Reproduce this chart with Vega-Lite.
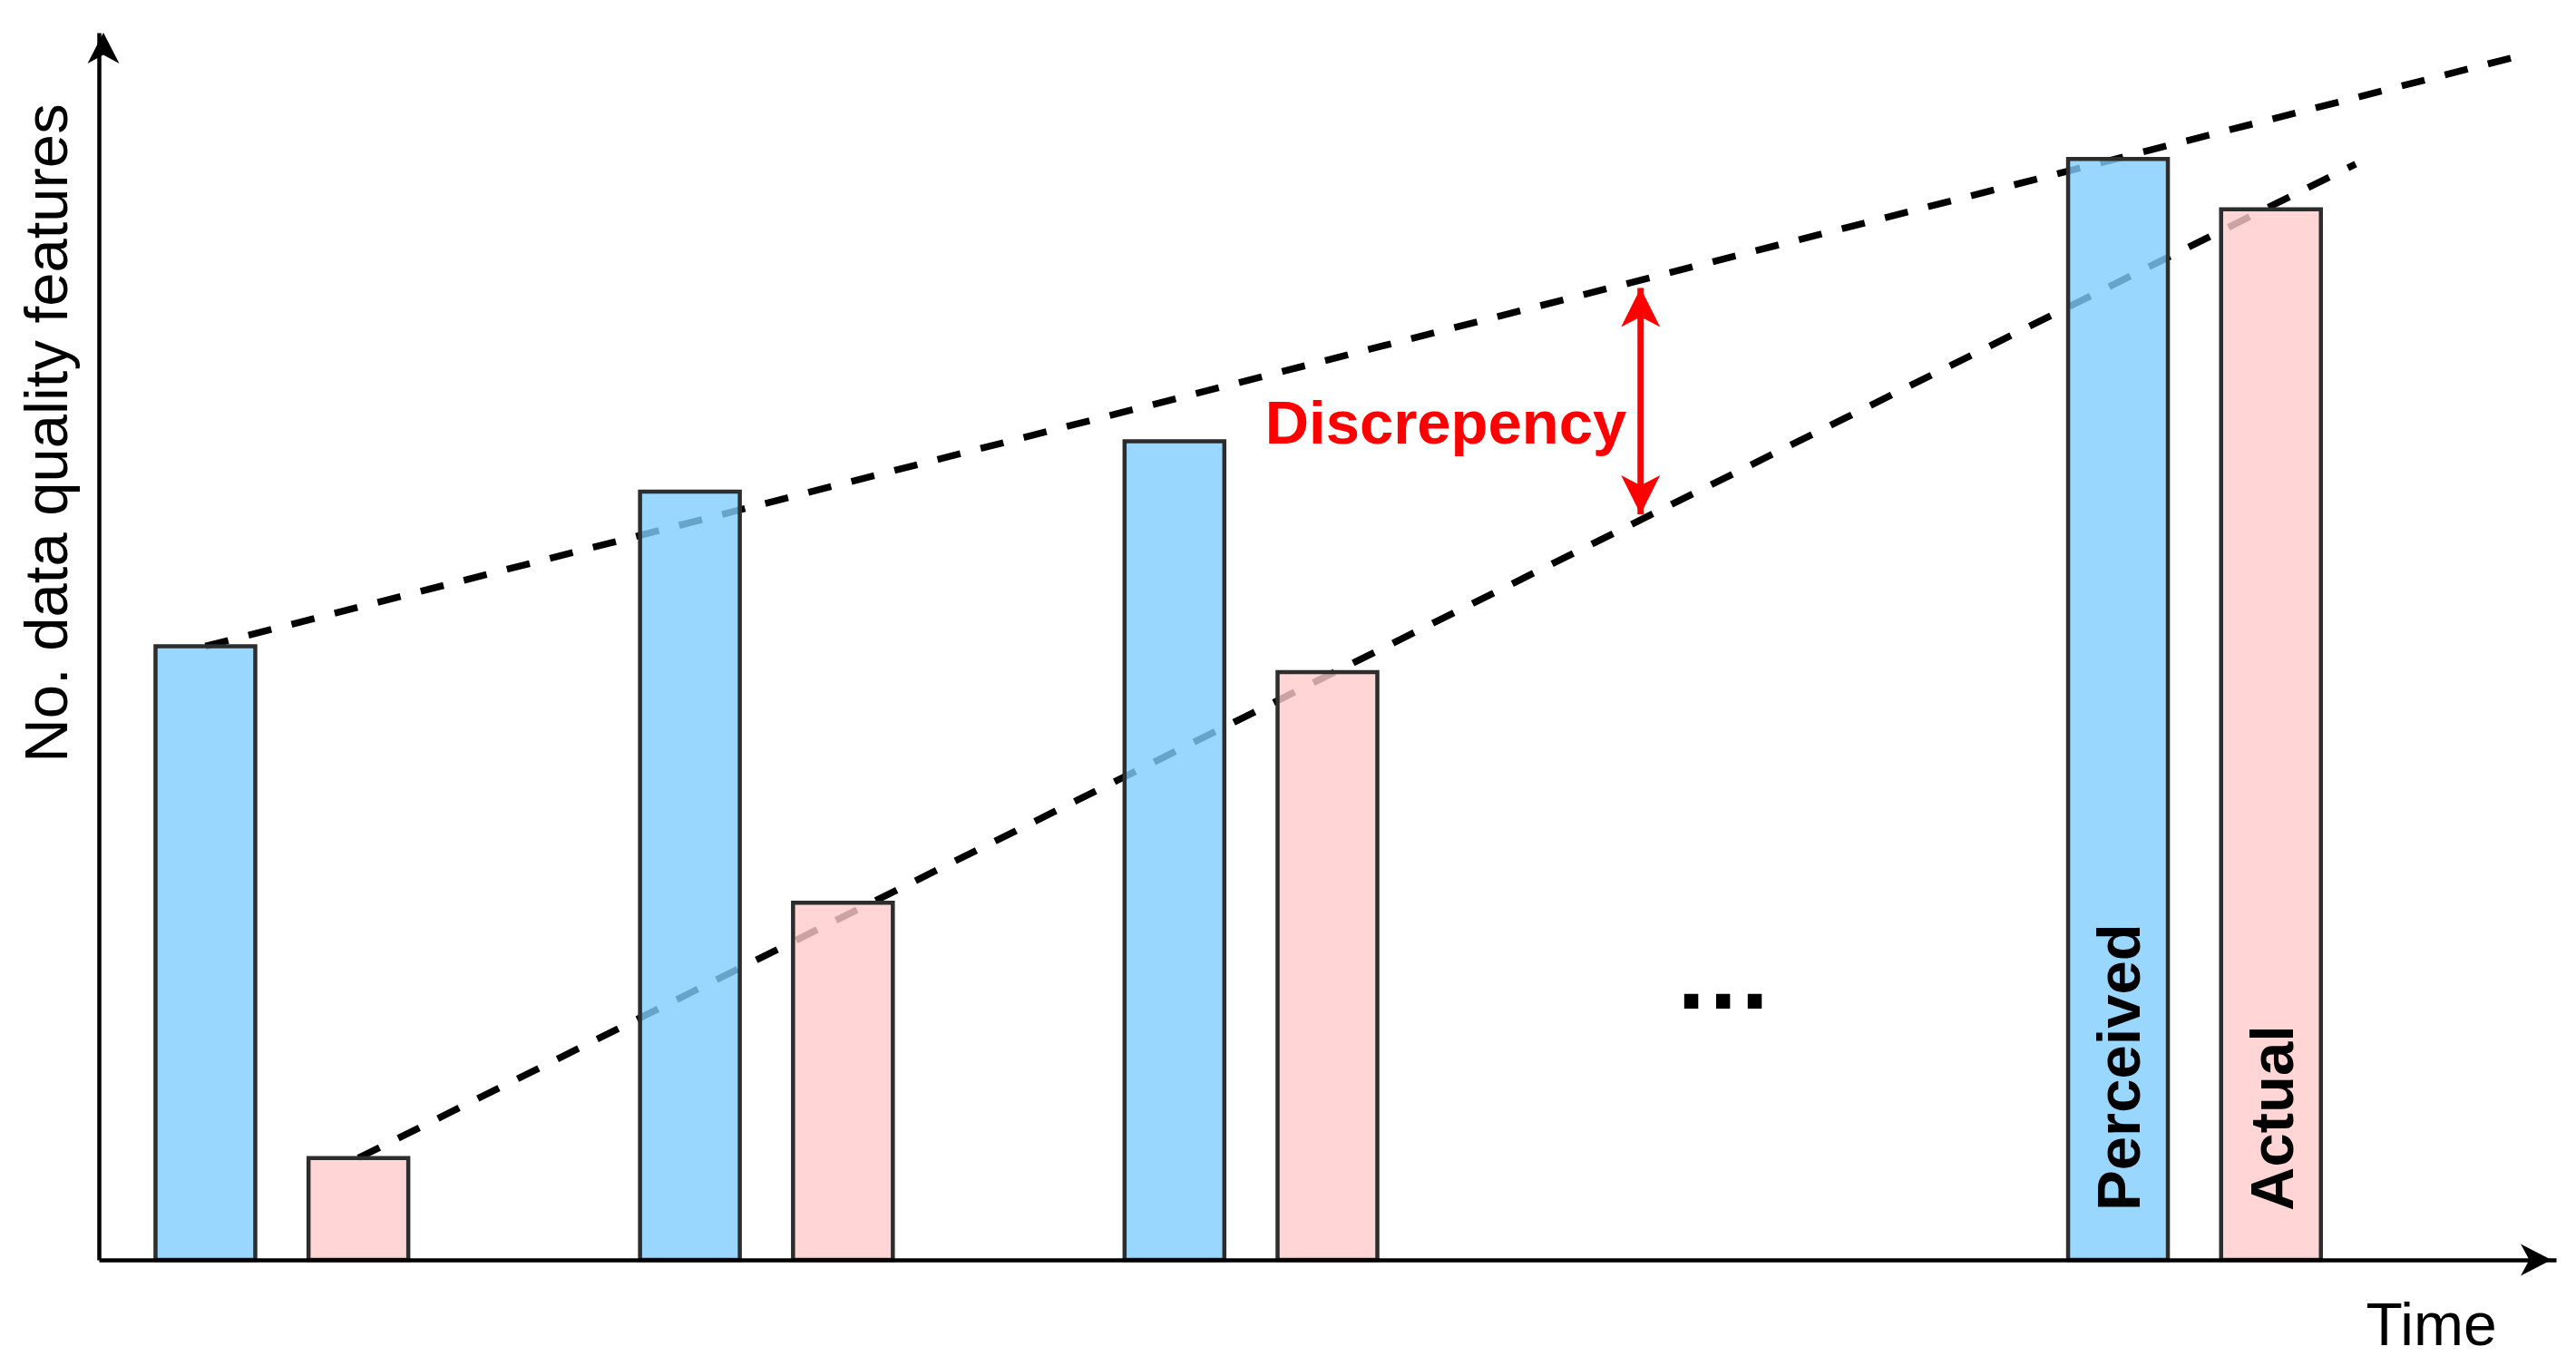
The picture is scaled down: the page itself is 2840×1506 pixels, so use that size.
{
  "$schema": "https://vega.github.io/schema/vega-lite/v6.json",
  "width": 2709,
  "height": 1353,
  "autosize": {"type": "none"},
  "padding": {"left": 109, "top": 36, "right": 22, "bottom": 117},
  "background": "white",
  "datasets": {
    "bars": [
      {"time": 1.0, "features": 50.0, "type": "Perceived"},
      {"time": 2.5, "features": 8.3, "type": "Actual"},
      {"time": 5.75, "features": 62.6, "type": "Perceived"},
      {"time": 7.25, "features": 29.1, "type": "Actual"},
      {"time": 10.5, "features": 66.7, "type": "Perceived"},
      {"time": 12.0, "features": 47.9, "type": "Actual"},
      {"time": 19.75, "features": 89.7, "type": "Perceived"},
      {"time": 21.25, "features": 85.6, "type": "Actual"}
    ],
    "trends": [
      {"series": "Perceived", "time": 1.0, "features": 50.0},
      {"series": "Perceived", "time": 23.73, "features": 98.2},
      {"series": "Actual", "time": 2.5, "features": 8.3},
      {"series": "Actual", "time": 22.08, "features": 89.3}
    ],
    "gap": [
      {"time": 15.07, "features": 60.75, "features_top": 79.2}
    ],
    "axisEnds": [
      {"time": 24, "features": 0, "dir": "x"},
      {"time": 0, "features": 100, "dir": "y"}
    ],
    "notes": [
      {"time": 13.16, "features": 66.5, "label": "Discrepency", "kind": "gap"},
      {"time": 15.88, "features": 20.5, "label": "…", "kind": "more"},
      {"time": 19.75, "features": 4.0, "label": "Perceived", "kind": "bar"},
      {"time": 21.25, "features": 4.0, "label": "Actual", "kind": "bar"}
    ]
  },
  "encoding": {
    "x": {
      "field": "time",
      "type": "quantitative",
      "title": "Time",
      "scale": {"domain": [0, 24], "nice": false, "zero": false},
      "axis": {
        "domain": true, "domainColor": "#000000", "domainWidth": 4.5,
        "ticks": false, "labels": false, "grid": false, "zindex": 1,
        "titleFont": "Liberation Sans", "titleFontSize": 66, "titleFontWeight": "normal",
        "titleColor": "#000000", "titleAngle": 0, "titleAlign": "center",
        "titleBaseline": "alphabetic", "titleX": 2571, "titleY": 93
      }
    },
    "y": {
      "field": "features",
      "type": "quantitative",
      "title": "No. data quality features",
      "scale": {"domain": [0, 100], "nice": false, "zero": true},
      "axis": {
        "domain": true, "domainColor": "#000000", "domainWidth": 4.5,
        "ticks": false, "labels": false, "grid": false, "zindex": 1,
        "titleFont": "Liberation Sans", "titleFontSize": 67, "titleFontWeight": "normal",
        "titleColor": "#000000", "titleAngle": -90, "titleAlign": "center",
        "titleBaseline": "alphabetic", "titleX": -36, "titleY": 441
      }
    }
  },
  "layer": [
    {
      "data": {"name": "trends"},
      "mark": {"type": "line", "color": "#000000", "strokeWidth": 7.5, "strokeDash": [26, 23], "strokeCap": "butt"},
      "encoding": {"detail": {"field": "series"}}
    },
    {
      "data": {"name": "bars"},
      "mark": {"type": "bar", "width": 110, "fillOpacity": 0.8, "stroke": "#2d2d2d", "strokeWidth": 4.5},
      "encoding": {
        "color": {
          "field": "type", "type": "nominal",
          "scale": {"domain": ["Perceived", "Actual"], "range": ["#7FCDFF", "#FFCACA"]},
          "legend": null
        }
      }
    },
    {
      "data": {"name": "gap"},
      "mark": {"type": "rule", "color": "#FF0000", "strokeWidth": 7},
      "encoding": {"y2": {"field": "features_top"}}
    },
    {
      "data": {"name": "gap"},
      "mark": {"type": "point", "filled": true, "shape": "M0,0L-1,2L0,1.48L1,2Z", "size": 1849, "color": "#FF0000", "opacity": 1, "strokeWidth": 0},
      "encoding": {"y": {"field": "features_top", "type": "quantitative", "title": "No. data quality features"}}
    },
    {
      "data": {"name": "gap"},
      "mark": {"type": "point", "filled": true, "shape": "M0,0L-1,-2L0,-1.48L1,-2Z", "size": 1849, "color": "#FF0000", "opacity": 1, "strokeWidth": 0}
    },
    {
      "data": {"name": "axisEnds"},
      "transform": [{"filter": "datum.dir === 'x'"}],
      "mark": {"type": "point", "filled": true, "shape": "M0,0L-1.94,-1L-1.4,0L-1.94,1Z", "size": 1225, "color": "#000000", "opacity": 1, "strokeWidth": 0}
    },
    {
      "data": {"name": "axisEnds"},
      "transform": [{"filter": "datum.dir === 'y'"}],
      "mark": {"type": "point", "filled": true, "shape": "M0,0L-1,1.94L0,1.4L1,1.94Z", "size": 1225, "color": "#000000", "opacity": 1, "strokeWidth": 0}
    },
    {
      "data": {"name": "notes"},
      "transform": [{"filter": "datum.kind === 'gap'"}],
      "mark": {"type": "text", "font": "Liberation Sans", "fontSize": 67, "fontWeight": "bold", "color": "#FF0000", "align": "center", "baseline": "alphabetic"},
      "encoding": {"text": {"field": "label"}}
    },
    {
      "data": {"name": "notes"},
      "transform": [{"filter": "datum.kind === 'more'"}],
      "mark": {"type": "text", "font": "Liberation Sans", "fontSize": 110, "fontWeight": "bold", "color": "#000000", "align": "center", "baseline": "alphabetic"},
      "encoding": {"text": {"field": "label"}}
    },
    {
      "data": {"name": "notes"},
      "transform": [{"filter": "datum.kind === 'bar'"}],
      "mark": {"type": "text", "font": "Liberation Sans", "fontSize": 67, "fontWeight": "bold", "color": "#000000", "align": "left", "baseline": "alphabetic", "angle": -90, "dy": 24},
      "encoding": {"text": {"field": "label"}}
    }
  ],
  "config": {
    "view": {"stroke": null},
    "font": "Liberation Sans"
  }
}
